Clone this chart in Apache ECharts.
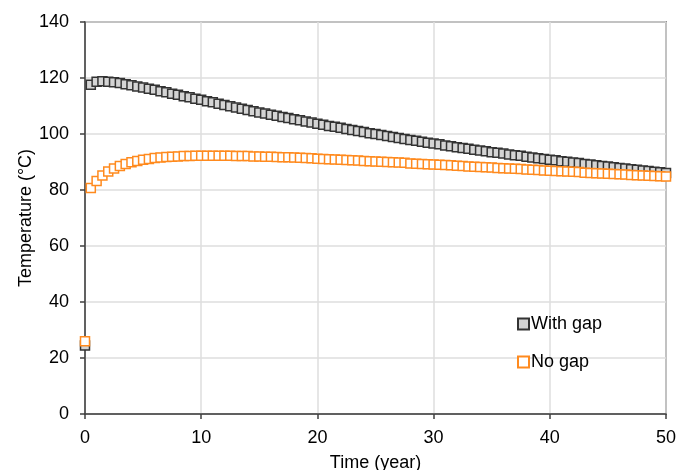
<!DOCTYPE html>
<html>
<head>
<meta charset="utf-8">
<script src="https://cdn.jsdelivr.net/npm/echarts@6/dist/echarts.min.js"></script>
<style>html,body{margin:0;padding:0;background:#fff;}#c{width:676px;height:470px;}</style>
</head>
<body>
<div id="c"></div>
<script>
const times = [0,0.5,1,1.5,2,2.5,3,3.5,4,4.5,5,5.5,6,6.5,7,7.5,8,8.5,9,9.5,10,10.5,11,11.5,12,12.5,13,13.5,14,14.5,15,15.5,16,16.5,17,17.5,18,18.5,19,19.5,20,20.5,21,21.5,22,22.5,23,23.5,24,24.5,25,25.5,26,26.5,27,27.5,28,28.5,29,29.5,30,30.5,31,31.5,32,32.5,33,33.5,34,34.5,35,35.5,36,36.5,37,37.5,38,38.5,39,39.5,40,40.5,41,41.5,42,42.5,43,43.5,44,44.5,45,45.5,46,46.5,47,47.5,48,48.5,49,49.5,50];
const withGap = [24.5,117.6,118.7,118.8,118.7,118.5,118.2,117.8,117.4,117.0,116.6,116.2,115.8,115.3,114.9,114.4,114.0,113.5,113.1,112.6,112.2,111.7,111.3,110.8,110.4,109.9,109.5,109.0,108.6,108.1,107.7,107.3,106.9,106.5,106.1,105.7,105.3,104.9,104.5,104.1,103.7,103.3,102.9,102.6,102.2,101.8,101.4,101.1,100.7,100.3,100.0,99.6,99.3,98.9,98.6,98.2,97.9,97.6,97.2,96.9,96.6,96.3,95.9,95.6,95.3,95.0,94.7,94.4,94.1,93.8,93.5,93.3,93.0,92.7,92.4,92.2,91.9,91.6,91.3,91.1,90.8,90.6,90.3,90.1,89.8,89.6,89.3,89.1,88.8,88.6,88.4,88.1,87.9,87.7,87.4,87.2,87.0,86.8,86.5,86.3,86.1];
const noGap = [26.0,80.7,83.2,85.2,86.6,87.7,88.6,89.3,89.9,90.4,90.8,91.1,91.4,91.6,91.8,91.9,92.0,92.1,92.1,92.2,92.2,92.2,92.2,92.2,92.2,92.2,92.1,92.1,92.1,92.0,92.0,91.9,91.9,91.8,91.7,91.7,91.6,91.5,91.4,91.3,91.2,91.1,91.0,90.9,90.8,90.7,90.6,90.5,90.4,90.3,90.2,90.1,90.0,89.9,89.8,89.7,89.5,89.4,89.3,89.2,89.1,89.0,88.9,88.8,88.7,88.6,88.4,88.3,88.2,88.1,88.0,87.9,87.8,87.7,87.6,87.5,87.3,87.2,87.1,87.0,86.9,86.8,86.7,86.6,86.5,86.4,86.2,86.1,86.0,85.9,85.8,85.7,85.6,85.5,85.4,85.3,85.2,85.1,85.0,84.9,84.8];
const xTicks = {min:0, max:50, interval:10};
const yTicks = {min:0, max:140, interval:20};

const font = 'Liberation Sans, Arial, sans-serif';
const chart = echarts.init(document.getElementById('c'), null, {renderer:'canvas'});
chart.setOption({
  animation: false,
  backgroundColor: '#fff',
  grid: {left:85, right:10, top:22, bottom:56, outerBoundsMode:'none', containLabel:false,
         show:true, borderColor:'#404040', borderWidth:1.5, backgroundColor:'transparent'},
  legend: {
    orient:'vertical', left:517, top:315, padding:0, itemWidth:11, itemHeight:11, itemGap:20,
    textStyle:{fontFamily:font, fontSize:18, color:'#000', padding:[0,0,0,-3]},
    data:['With gap','No gap']
  },
  xAxis: {
    type:'value', min:xTicks.min, max:xTicks.max, interval:xTicks.interval,
    name:'Time (year)', nameLocation:'middle', nameGap:40, nameMoveOverlap:false,
    nameTextStyle:{fontFamily:font, fontSize:18, color:'#000'},
    axisLine:{show:true, lineStyle:{color:'#404040', width:1.5}},
    axisTick:{show:true, inside:false, length:5, lineStyle:{color:'#404040', width:1.5}},
    axisLabel:{fontFamily:font, fontSize:18, color:'#000', margin:15},
    splitLine:{show:true, lineStyle:{color:'#dedede', width:1.5}}
  },
  yAxis: {
    type:'value', min:yTicks.min, max:yTicks.max, interval:yTicks.interval,
    name:'Temperature (\u00b0C)', nameLocation:'middle', nameGap:50, nameMoveOverlap:false,
    nameTextStyle:{fontFamily:font, fontSize:18, color:'#000'},
    axisLine:{show:true, lineStyle:{color:'#404040', width:1.5}},
    axisTick:{show:true, inside:false, length:5, lineStyle:{color:'#404040', width:1.5}},
    axisLabel:{fontFamily:font, fontSize:18, color:'#000', margin:16},
    splitLine:{show:true, lineStyle:{color:'#dedede', width:1.5}}
  },
  series: [
    {
      name:'With gap', type:'scatter', symbol:'rect', symbolSize:9,
      itemStyle:{color:'#d4d4d4', borderColor:'#333', borderWidth:1.5, opacity:1},
      data: times.map((t,i)=>[t, withGap[i]])
    },
    {
      name:'No gap', type:'scatter', symbol:'rect', symbolSize:9,
      itemStyle:{color:'#fff', borderColor:'#ff8a1e', borderWidth:1.5, opacity:1},
      data: times.map((t,i)=>[t, noGap[i]])
    }
  ]
});
</script>
</body>
</html>
